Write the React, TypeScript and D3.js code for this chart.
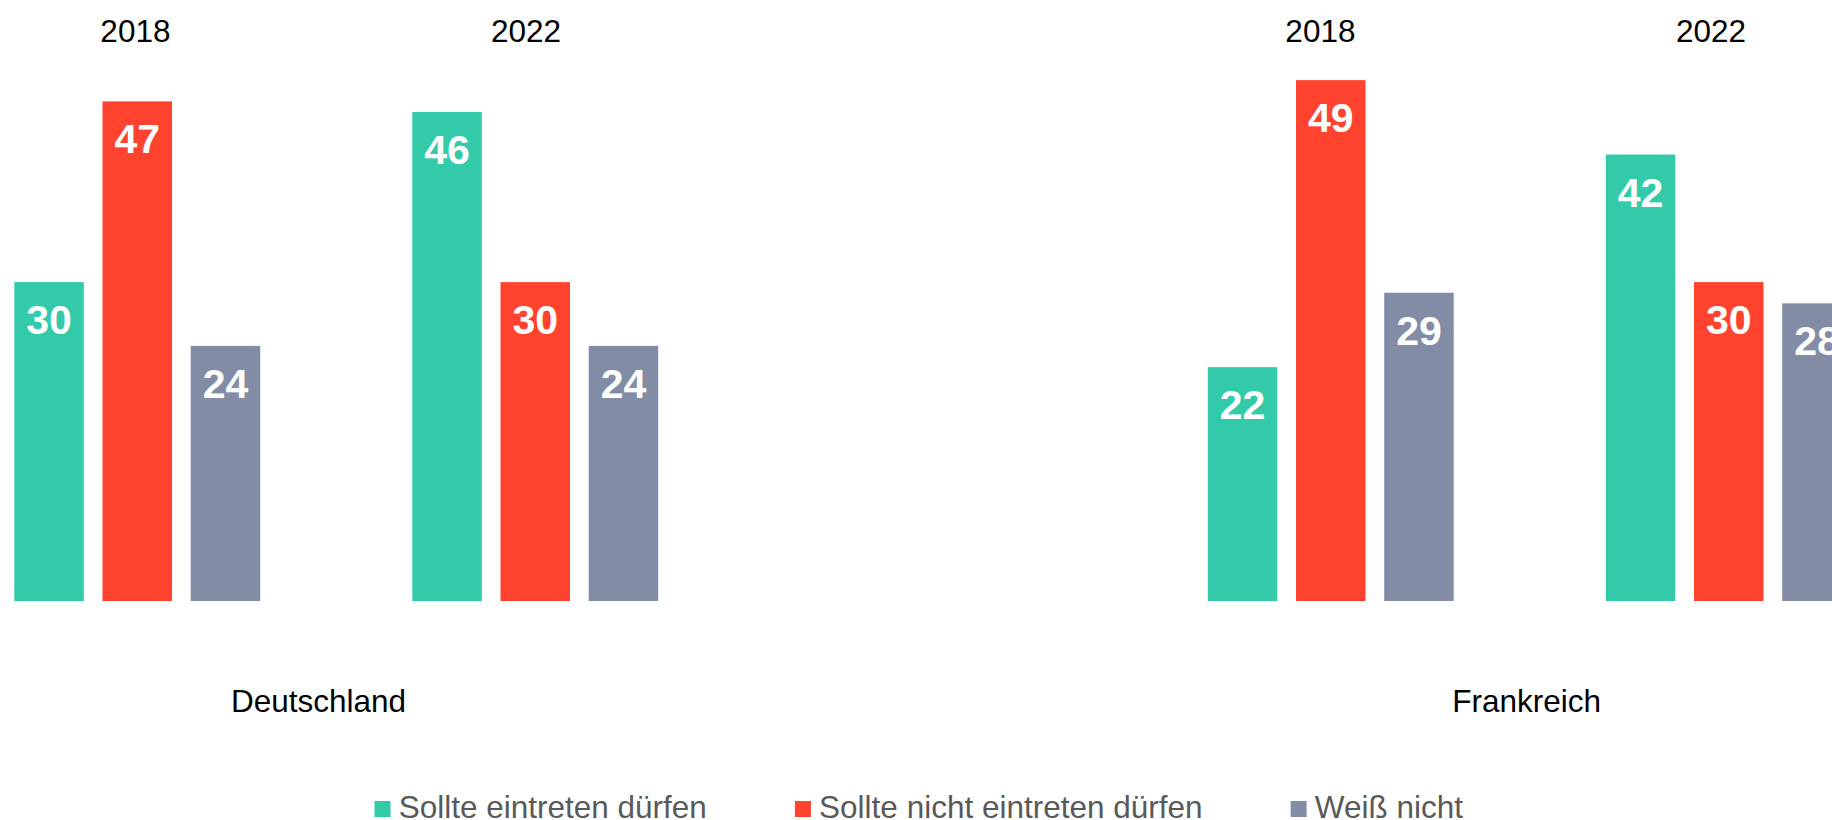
import React, { useEffect, useRef } from "react";
import * as d3 from "d3";

const countries = ["Deutschland", "Frankreich"];
const years = ["2018", "2022"];
const seriesNames = ["Sollte eintreten dürfen", "Sollte nicht eintreten dürfen", "Weiß nicht"];
const seriesColors = ["#32CAA9", "#FF432E", "#828DA5"];
// values per country -> year -> series
const deutschland2018 = [30, 47, 24];
const deutschland2022 = [46, 30, 24];
const frankreich2018 = [22, 49, 29];
const frankreich2022 = [42, 30, 28];
const valueTable = [
  [deutschland2018, deutschland2022],
  [frankreich2018, frankreich2022],
];

const W = 1832;
const H = 820;
const FONT = "'Liberation Sans', Arial, Helvetica, sans-serif";

export default function App() {
  const ref = useRef<SVGSVGElement>(null);

  useEffect(() => {
    const svg = d3.select(ref.current);
    svg.selectAll("*").remove();

    const y = d3.scaleLinear().domain([0, 50]).range([601, 69.5]);

    const countryX = d3.scaleBand().domain(countries).range([14.3, 14.3 + 2 * 1193.5]).padding(0);
    const yearX = d3.scaleBand().domain(years).range([0, 796]).padding(0);
    const seriesX = d3.scaleBand().domain(seriesNames).range([0, 245.9]).paddingInner(0.212).paddingOuter(0);

    // label scales
    const yearLabelCountry = d3.scaleBand().domain(countries).range([135.4, 135.4 + 2 * 1185]).padding(0);
    const yearLabelX = d3.scaleBand().domain(years).range([0, 781.4]).padding(0);
    const countryLabelX = d3.scaleBand().domain(countries).range([318.5, 318.5 + 2 * 1208.2]).padding(0);

    const g = svg.append("g");

    countries.forEach((c, ci) => {
      years.forEach((yr, yi) => {
        const vals = valueTable[ci][yi];
        const gx = (countryX(c) as number) + (yearX(yr) as number);
        seriesNames.forEach((s, si) => {
          const v = vals[si];
          const x = gx + (seriesX(s) as number);
          const bw = seriesX.bandwidth();
          g.append("rect")
            .attr("x", x)
            .attr("y", y(v))
            .attr("width", bw)
            .attr("height", y(0) - y(v))
            .attr("fill", seriesColors[si]);
          g.append("text")
            .attr("x", x + bw / 2)
            .attr("y", y(v) + 52)
            .attr("text-anchor", "middle")
            .attr("font-family", FONT)
            .attr("font-weight", "bold")
            .attr("font-size", 41)
            .attr("fill", "#ffffff")
            .text(String(v));
        });
        g.append("text")
          .attr("x", (yearLabelCountry(c) as number) + (yearLabelX(yr) as number))
          .attr("y", 41.5)
          .attr("text-anchor", "middle")
          .attr("font-family", FONT)
          .attr("font-size", 31.5)
          .attr("fill", "#000000")
          .text(yr);
      });
      g.append("text")
        .attr("x", countryLabelX(c) as number)
        .attr("y", 711.7)
        .attr("text-anchor", "middle")
        .attr("font-family", FONT)
        .attr("font-size", 31.5)
        .attr("fill", "#000000")
        .text(c);
    });

    // legend
    const lg = svg.append("g");
    let lx = 374.5;
    seriesNames.forEach((s, si) => {
      lg.append("rect")
        .attr("x", lx)
        .attr("y", 801)
        .attr("width", 16)
        .attr("height", 16)
        .attr("fill", seriesColors[si]);
      const t = lg
        .append("text")
        .attr("x", lx + 24.2)
        .attr("y", 817.5)
        .attr("font-family", FONT)
        .attr("font-size", 31.5)
        .attr("fill", "#595959")
        .text(s);
      const tw = (t.node() as SVGTextElement).getComputedTextLength();
      lx = lx + 24.2 + tw + 88;
    });
  }, []);

  return (
    <svg
      ref={ref}
      width={W}
      height={H}
      style={{ position: "absolute", left: 0, top: 0, display: "block", overflow: "hidden", background: "#fff" }}
    />
  );
}
